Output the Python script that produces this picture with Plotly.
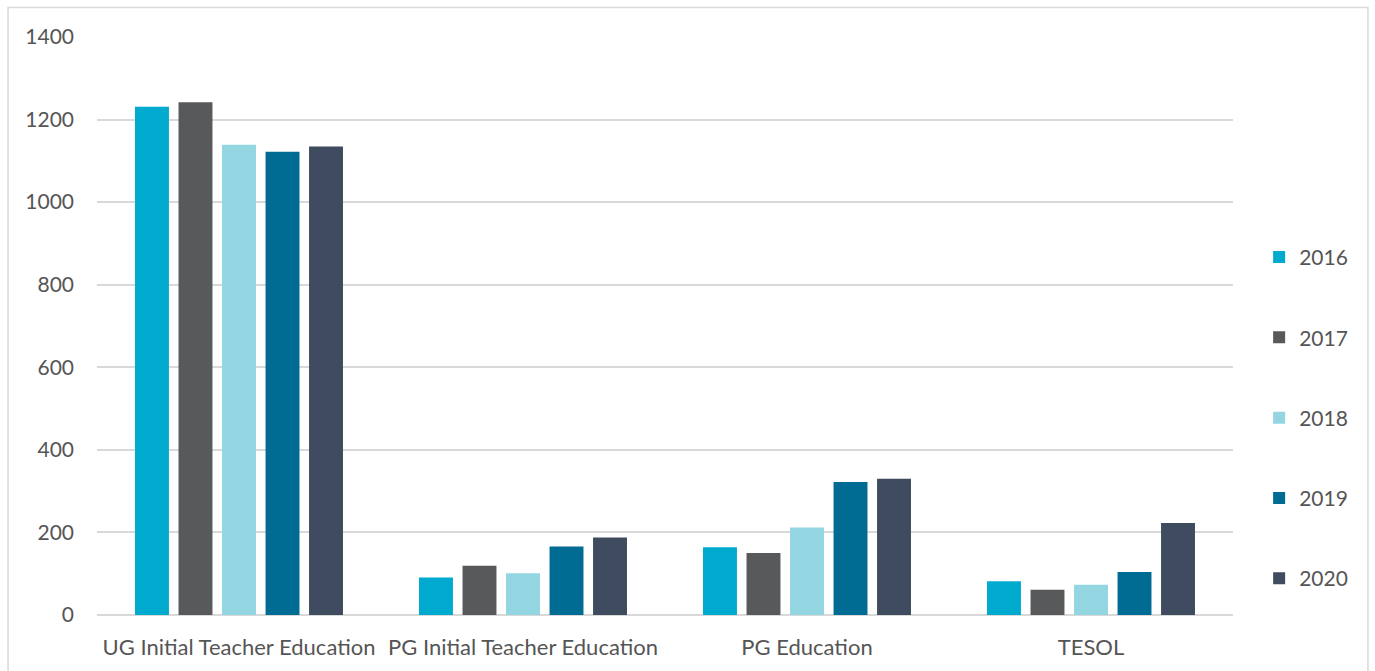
import plotly.graph_objects as go

categories = ["UG Initial Teacher Education", "PG Initial Teacher Education", "PG Education", "TESOL"]
years = ["2016", "2017", "2018", "2019", "2020"]
values_2016 = [1231, 91, 164, 82]
values_2017 = [1242, 119, 150, 61]
values_2018 = [1139, 101, 212, 73]
values_2019 = [1122, 166, 322, 104]
values_2020 = [1135, 188, 330, 223]
series = [values_2016, values_2017, values_2018, values_2019, values_2020]
colors = ["#00AACF", "#58595B", "#93D6E2", "#006C93", "#3F4C5F"]

y_ticks = [0, 200, 400, 600, 800, 1000, 1200, 1400]

FONT = "Lato, 'Open Sans', sans-serif"
TEXT = "#555555"
GRID = "#D9D9D9"

fig = go.Figure()
for year, vals, col in zip(years, series, colors):
    fig.add_trace(go.Bar(
        x=categories, y=vals, name=year, legendgroup=year,
        marker=dict(color=col, line=dict(width=0)),
    ))

fig.update_layout(
    width=1375, height=671,
    margin=dict(l=97, r=142, t=37, b=56),
    paper_bgcolor="white", plot_bgcolor="white",
    barmode="group", bargap=0.234, bargroupgap=0.22,
    font=dict(family=FONT, size=21, color=TEXT),
    showlegend=True,
    legend=dict(
        x=1.023, xanchor="left", y=0.341, yanchor="middle",
        font=dict(size=21, color=TEXT),
        tracegroupgap=50, itemwidth=30,
        bgcolor="rgba(0,0,0,0)",
    ),
    xaxis=dict(
        showgrid=False, showline=False, zeroline=False,
        ticks="", ticklabelstandoff=17,
        tickfont=dict(size=22, color=TEXT),
    ),
    yaxis=dict(
        range=[0, 1400], tickvals=y_ticks,
        showgrid=True, gridcolor=GRID, gridwidth=1.5,
        zeroline=True, zerolinecolor=GRID, zerolinewidth=1.5,
        showline=False, ticks="", ticklabelstandoff=22,
        tickfont=dict(size=21, color=TEXT),
    ),
    shapes=[dict(
        type="rect", xref="paper", yref="paper",
        x0=-0.0783, x1=1.1188, y0=-0.12, y1=1.0511,
        line=dict(color=GRID, width=1.5), fillcolor="rgba(0,0,0,0)", layer="below",
    )],
)

fig.write_html("out.html")
